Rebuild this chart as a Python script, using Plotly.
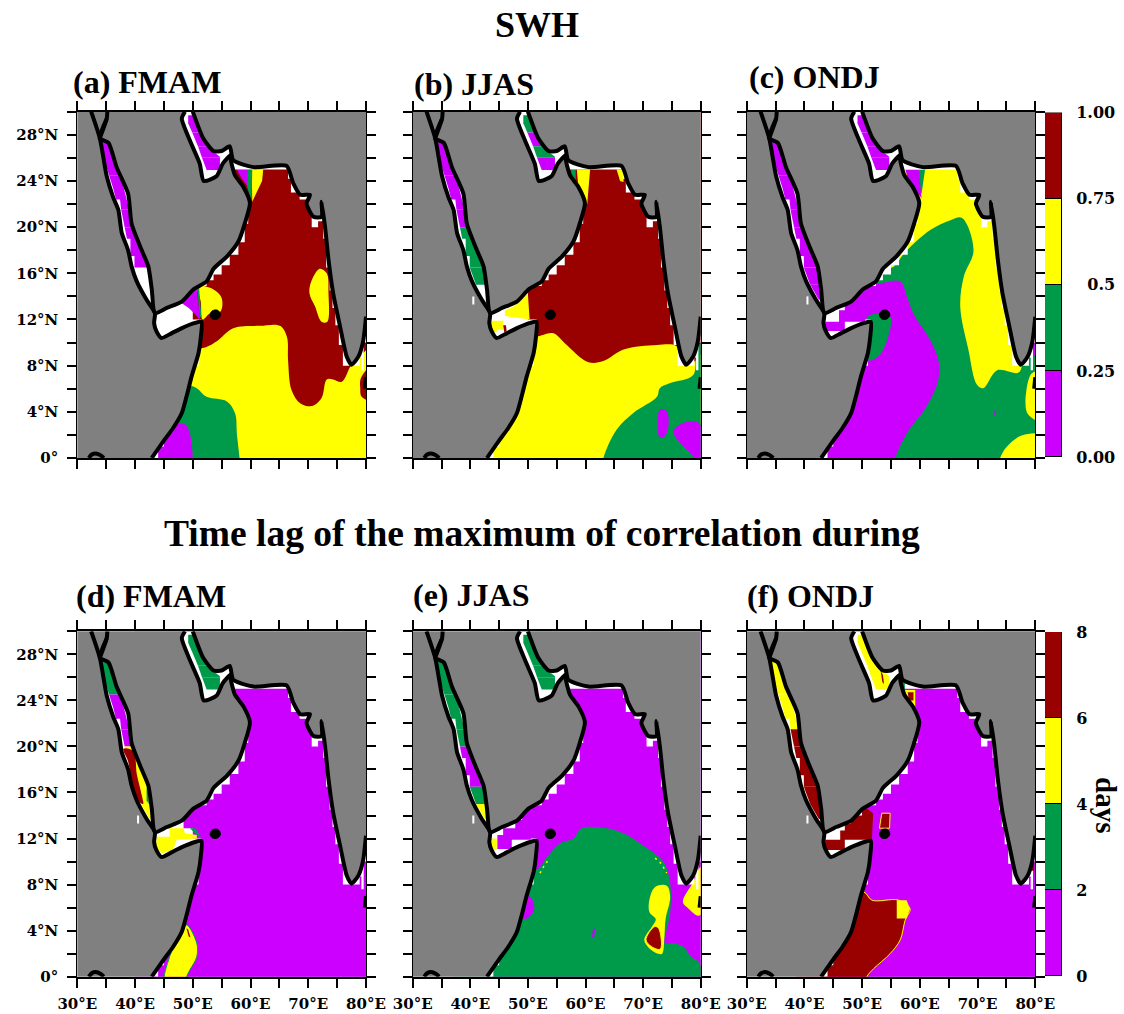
import plotly.graph_objects as go

W, H = 1124, 1014
MAROON, YELLOW, GREEN, PURPLE, GRAY = "#990000", "#FFFF00", "#009A4B", "#CC00FF", "#808080"

# ---------- tick labels ----------
LON_TICKS = [30, 35, 40, 45, 50, 55, 60, 65, 70, 75, 80]
LON_LABELS = ["30°E", "", "40°E", "", "50°E", "", "60°E", "", "70°E", "", "80°E"]
LAT_TICKS = [0, 2, 4, 6, 8, 10, 12, 14, 16, 18, 20, 22, 24, 26, 28, 30]
LAT_LABELS = ["0°", "", "4°N", "", "8°N", "", "12°N", "", "16°N", "", "20°N", "", "24°N", "", "28°N", ""]
BAR_TOP_TICKS = [0, 0.25, 0.5, 0.75, 1.0]
BAR_TOP_LABELS = ["0.00", "0.25", "\u00a0\u00a00.5", "0.75", "1.00"]
BAR_BOTTOM_TICKS = [0, 2, 4, 6, 8]
BAR_BOTTOM_LABELS = ["0", "2", "4", "6", "8"]
BAR_TOP_STEPS = [0.25, 0.25, 0.25, 0.25]
BAR_BOTTOM_STEPS = [2, 2, 2, 2]
BAR_COLORS = [PURPLE, GREEN, YELLOW, MAROON]

# ---------- coastlines (lon, lat) ----------
AFRICA_COAST = [(42.9,0),(44.9,1.44),(46.6,2.6),(48.1,3.9),(48.9,5.3),(49.8,7.07),(51.0,9.1),(51.4,10.5),(51.5,11.8),
    (50.4,11.7),(48.1,11.25),(46.3,10.8),(44.6,10.4),(43.7,11.0),(43.3,11.7),(43.45,12.55),
    (42.0,13.7),(40.3,15.3),(39.4,16.6),(38.8,18.0),(37.7,19.5),(37.1,21.5),(36.2,22.6),(35.1,24.4),(33.9,27.7),(32.4,30)]
SINAI_COAST = [(33.9,27.7),(35.1,29.4),(35.2,30)]
ARABIA_COAST = [(35.1,29.4),(33.9,27.7),(35.4,27.3),(36.8,25.2),(38.8,22.9),(39.4,20.3),(40.9,18.3),(42.3,16.6),(42.9,14.6),(43.45,12.55),
    (45.5,13.0),(48.1,13.55),(50.1,14.6),(52.4,15.3),(53.6,16.4),(55.9,17.45),(57.9,18.75),(59.0,20.3),(59.9,22.1),
    (58.75,23.5),(57.3,24.5),(56.6,25.8),(56.6,26.25),(55.2,25.5),(54.1,24.4),(51.9,24.0),(51.2,25.5),(49.5,27.5),(48.1,29.4),(48.65,30)]
ASIA_COAST = [(50.0,30),(51.8,27.7),(53.6,26.6),(55,26.6),(56.4,27.0),(57.0,25.8),(60.5,25.2),(66.25,25.3),(67.4,23.8),(68.6,22.8),
    (70.3,22.8),(69.7,22.05),(70.9,20.9),(72.3,20.9),(72.3,22.2),(72.9,20.05),(73.5,17.2),(74.3,14.3),(75.5,11.4),(76.65,8.8),
    (77.5,8.08),(78.7,8.8),(79.5,10.1),(80,12.25)]
LANKA_COAST = [(80,7),(79.8,6)]
VICTORIA_ARC = [(32,0),(32.5,0.3),(33.2,0.4),(34,0.25),(34.6,0)]
SOCOTRA = [(53.0,12.4),(53.4,12.75),(54.3,12.8),(54.8,12.4),(54.3,12.05),(53.4,12.05)]
LAND_SPECK = [(40.35,13.3),(40.7,13.3),(40.7,14.0),(40.35,14.0)]

# grid-cell edge of the open-sea data, everything outside it stays white
SEA_MASK = [(44,0),(44,1),(45,1),(45,2),(46,2),(46,3),(47,3),(47,4),(48,4),(48,5),(49,5),(49,6),(49.5,6),(49.5,7),(50,7),(50,8),(51,8),(51,10),(51.5,10),(51.5,12),
    (50,12),(50,14.9),(52.4,14.9),(52.4,15.4),(53.6,15.4),(53.6,15.9),(55,15.9),(55,16.7),(56.4,16.7),(56.4,17.6),(57.9,17.6),(57.9,18.7),(59,18.7),(59,20.3),(59.6,20.3),
    (59.6,22),(59,22),(59,23),(58,23),(58,24),(57,24),(57,25),(66.5,25),(66.5,24.2),(67,24.2),(67,23),(68.5,23),(68.5,22.4),(70,22.4),(70,21.5),(70.6,21.5),(70.6,20),
    (71.7,20),(71.7,20.5),(72.6,20.5),(72.6,19),(73.1,19),(73.1,16.5),(73.7,16.5),(73.7,14.5),(74.2,14.5),(74.2,13),(74.7,13),(74.7,11.5),(75.3,11.5),(75.3,9.8),(76,9.8),(76,8),
    (78.9,8),(78.9,8.7),(79.2,8.7),(79.2,7.6),(79.6,7.6),(79.6,10),(80,10),(80,30),(30,30),(30,0)]

# ---------- narrow-basin sections ----------
RS_A = [(34.2,27.4),(35.5,27.4),(37.5,24.5),(35.5,24.5),(34.9,25.5)]
RS_B = [(35.5,24.5),(37.5,24.5),(39,21.5),(37.6,21.5),(37.4,22.4),(36.7,22.4),(36.2,23.4)]
RS_C = [(37.6,21.5),(39,21.5),(39.8,20),(38.2,20)]
RS_D = [(38.2,20),(39.8,20),(42.4,16.5),(39.9,16.5),(39.9,17.5),(39.2,17.5),(39.2,19),(38.6,19)]
RS_E = [(39.9,16.5),(42.4,16.5),(43,15),(41,15)]
RS_F = [(41,15),(43,15),(43.4,13.7),(42.5,13.7)]
PG_N = [(49.2,29.7),(50.1,29.7),(51.2,28.2),(49.9,28.2),(49.2,29)]
PG_M = [(49.9,28.2),(51.2,28.2),(52.4,27),(50.9,27)]
PG_S1 = [(50.9,27),(52.4,27),(54.7,26.1),(54.7,26),(51.6,26)]
PG_S2 = [(51.6,26),(54.7,26),(54.7,24.95),(52.4,24.95)]

# ---------- panel (a) ----------
A_YELLOW = [(40,9.5),(51.5,9.5),(54.1,10.1),(57,11.25),(61.6,11.45),(65.1,11.45),(66.3,10.5),(66.5,8.5),(67.1,5.9),(68.6,4.75),(70.6,4.5),(72.3,5.2),(73.2,6.8),(74.3,6.8),(75.8,6.6),(77.5,8.1),(79.5,9.1),(82,10),(84,-4),(40,-4)]
A_RED_EAST = [(81,8),(79.1,6.9),(79,6.05),(79.25,5.3),(81,5)]
A_YELLOW_BLOB = [(72,16.4),(70.6,15.4),(70.2,14.3),(71.2,13.1),(72.3,11.8),(73.3,11.8),(73.5,14.3),(73.2,16)]
A_YELLOW_ADEN = [(50.9,14.85),(53.6,14.6),(55,13.85),(54.8,12.7),(53,12.55),(51.7,12.0),(51.4,13.5)]
A_GREEN_ADEN = [(50.8,14.7),(51.1,14.7),(51.5,12.2),(51.2,12.2)]
A_PURPLE_ADEN = [(48.1,13.4),(50.1,14.6),(50.7,14.7),(51.3,11.9),(50.5,12.4),(49.3,13)]
A_YELLOW_OMAN = [(60.2,25),(62.2,25),(62,24),(60.3,22.2)]
A_GREEN_OMAN = [(59.4,25),(60.3,25),(60.2,22.2),(59.4,23.5)]
A_PURPLE_OMAN = [(57.6,25),(59.4,25),(59.4,23.6),(58.5,24.2)]
A_GREEN = [(40,6.2),(50.1,6.2),(52.4,5.3),(55.9,4.9),(57.3,3.9),(57.6,2.45),(57,-4),(40,-4)]
A_PURPLE = [(43,0),(47.2,2.9),(48.65,2.9),(49.6,1.9),(49.2,-2),(43,-2)]

# ---------- panel (b) ----------
B_YELLOW = [(40,10.5),(51.2,10.5),(54.4,10.8),(56.4,9.95),(60.5,8.3),(63.1,8.4),(66.6,9.4),(72.4,9.8),(75.8,9.7),(77,8.5),(78.7,8.3),(82,10),(84,-4),(40,-4)]
B_GREEN = [(62,-3),(63.1,0),(65.4,2.45),(68.3,3.9),(72.4,5.3),(72.9,6.05),(74.7,6.5),(78.7,7.2),(79.3,9.5),(81,10.2),(84,-3)]
B_PURPLE_1 = [(72.9,4.2),(74.1,4.05),(74.4,2.75),(73.8,1.9),(72.9,1.75)]
B_PURPLE_2 = [(75.25,2.3),(77,3.05),(79.6,3.05),(81,1),(80,-0.5),(78.4,0.3)]
B_YELLOW_OMAN = [(58.5,25),(60.8,25),(60.3,22),(59,22)]
B_GREEN_OMAN = [(57.5,25),(58.3,25),(58.3,24),(57.5,24)]
B_YELLOW_EAST = [(65.4,25),(66.6,25),(66.6,23.9),(66,24)]
B_YELLOW_ADEN_R = [(46,12.8),(47,13),(48,13.3),(48.8,13.9),(50,14.2),(50.3,12.0),(46,12.3)]
B_YELLOW_ADEN_L = [(43.4,11.9),(45.7,11.9),(45.7,11.1),(44.6,11.1),(44.6,10.9),(43.6,10.9)]
B_RED_DOT = [(45.7,11.5),(46.2,11.5),(46.3,11),(45.9,10.9)]

# ---------- panel (c) ----------
C_YELLOW = [(55,16.5),(57.75,18.0),(61.8,19.75),(65.3,20.6),(67.3,20.8),(69.3,18),(67.6,15.7),(67,13.1),(68.4,9.4),(69.9,6.35),(71,6.05),(73.4,7.6),(77.1,7.4),(78,8.5),(82,12),(82,28),(55,28)]
C_GREEN_OMAN = [(59.8,25),(60.9,25),(60.3,22.9),(59.6,23.5)]
C_PURPLE_OMAN = [(57.5,25),(59.8,25),(60.3,22.5),(58,24)]
C_YELLOW_EAST = [(79.4,7.35),(78.3,4.75),(78.8,3.75),(81,3.2),(81,7.4)]
C_PURPLE_TIP = [(79.5,10),(80,10),(80,8.9),(79.6,8.9)]
C_YELLOW_SOUTH = [(73,-2),(73.9,0),(75.1,1),(77.4,1.9),(80,2.15),(83,2),(83,-2)]
C_PURPLE = [(40,15.1),(52.5,15.1),(56.6,15.3),(57.75,14),(58.9,12.5),(61.8,10.2),(63.2,8.5),(63.2,6.8),(61.2,4.5),(57.75,2.15),(55.7,0),(54,-3),(40,-3)]
C_GREEN_INNER = [(51,12.25),(54.85,12.25),(54.5,10.5),(53.1,8.95),(51.7,8.5),(51,8.5)]
C_PURPLE_ADEN = [(43.6,11.8),(46,11.8),(46,12.8),(47,12.8),(47,13.4),(48.2,13.4),(48.2,14),(49.2,14),(49.2,14.6),(50.5,14.6),(50.5,11.8),(47,11.8),(47,11),(43.6,11)]
C_DOT = [(72.9,3.7),(73.2,3.7),(73.2,4.1),(72.9,4.1)]

# ---------- panel (d) ----------
D_YELLOW_SOUTH = [(48.9,4.5),(50.7,2.9),(50.7,1.75),(49.5,0.6),(48.1,-0.5),(45.2,-0.5),(46,1.75),(47.8,3.75)]
D_RED_DASH = [(48.9,4.2),(49.3,3.5),(49.6,3.4),(49.2,4.1)]
D_RED_RS = [(38,19.8),(39.7,19.6),(40.3,17.6),(41.1,15.9),(41.4,15),(40.5,15.3),(39.4,17),(38.8,18.7)]
D_GREEN_RS = [(42,16.4),(42.3,16),(42.4,15),(42,15.3)]
D_YELLOW_ADEN = [(43.75,12.15),(46,12.15),(46,12.9),(48.4,12.9),(48.65,12.45),(50.7,12.3),(50.7,12),(47.2,11.9),(46.6,11),(44.6,10.7),(43.6,11.3)]
D_GREEN_ADEN = [(49.5,12.9),(50.5,12.9),(51.5,12),(50.7,12.3)]
D_PURPLE_ADEN = [(48.4,14),(50.5,14.5),(50.5,12.9),(48.4,12.9)]

# ---------- panel (e) ----------
E_GREEN = [(40,9.3),(51.5,9.3),(53.3,10.4),(55.6,11.6),(57.9,12),(59.3,12.9),(63.7,12.9),(66.6,12.45),(70,11.4),(73.5,10),(74.7,8.1),(74.7,5.5),(73.8,2.9),(75.25,2.9),(77,2.6),(78.4,1.7),(79.6,1.3),(81,-1),(82,-4),(40,-4)]
E_PURPLE_WEST = [(50.4,6.95),(51.1,5.9),(50.1,5.15),(48.75,5.07),(48,6.9)]
E_PURPLE_DOT = [(61.1,3.4),(61.3,4.1),(61.7,4.2),(61.5,3.4)]
E_YELLOW = [(72.1,7.8),(74.1,7.9),(74.7,6.95),(73.9,5),(73.7,3.5),(73.3,2),(72.6,2),(71,2.5),(70.2,3.2),(71.6,4.4),(72.2,5),(71.1,5.6),(71.1,6.7)]
E_RED = [(72,4.35),(72.7,4.2),(73,2.4),(71.5,2.6),(70.5,3.2)]
E_YELLOW_EAST = [(76.9,6.5),(78.7,8.2),(80,9.5),(81,9),(81,6),(79.6,5.3),(77.9,5.9)]
E_PURPLE_ADEN = [(44.7,12.3),(45.7,12.3),(45.7,12.9),(47.8,12.9),(47.8,13.6),(49,13.6),(49,14.5),(50.5,14.8),(50.5,11.9),(47.2,11.9),(47.2,11.1),(44.7,11.1)]
E_YELLOW_ADEN = [(43.4,12),(44.6,12),(44.6,11),(43.5,11)]
E_DASH_WEST = [(52.1,9),(52.9,9.7),(53.8,10.3)]
E_DASH_EAST = [(72.1,10.3),(73.2,9.8),(74.1,9)]

# ---------- panel (f) ----------
F_RED = [(40,7.4),(50.2,7.4),(51.7,6.65),(56.3,6.65),(58.3,5.9),(57.45,4.9),(56.6,3.2),(54.85,2),(52,0.7),(50.8,0),(49,-2),(40,-2)]
F_YELLOW_BLOCK = [(56,6.65),(57.7,6.65),(58.3,5.9),(57.7,5.05),(56,5.05)]
F_RED_SOCOTRA = [(53.4,14.2),(54.85,14.2),(54.75,12.9),(53,12.9)]
F_YELLOW_OMAN = [(57.4,24.9),(59.2,24.9),(59.2,23.4),(58.3,23.5)]
F_RED_OMAN = [(57.9,24.7),(58.9,24.7),(58.9,24),(58.1,24)]
F_GREEN_OMAN = [(56.9,25.6),(57.4,25.6),(57.4,24.7),(56.9,24.7)]
F_RED_TIP = [(79.3,10),(79.8,10),(79.8,9.2),(79.3,9.2)]
F_RED_ADEN = [(43.6,11.9),(46.2,11.9),(46.2,12.7),(47,12.7),(47,13.3),(48,13.3),(48,14),(50,14),(50,14.9),(51.9,14.2),(51.7,11.9),(47,11.9),(47,11),(43.6,11)]
F_RED_RS_DASH = [(53.2,26.6),(53.6,26.2),(53.8,25.4),(53.5,25.6)]

WHOLE_SEA = [(40,-1),(81,-1),(81,31),(40,31)]

# polygons whose edges are smooth contours (the rest are grid-cell blocks)
SMOOTH = [A_YELLOW, A_YELLOW_BLOB, A_GREEN, A_RED_EAST, A_YELLOW_ADEN, A_PURPLE, B_YELLOW, B_GREEN, B_PURPLE_1, B_PURPLE_2,
          C_YELLOW, C_YELLOW_EAST, C_YELLOW_SOUTH, C_PURPLE, C_GREEN_INNER, D_YELLOW_SOUTH, D_RED_RS,
          E_GREEN, E_PURPLE_WEST, E_YELLOW, E_RED, E_YELLOW_EAST, F_RED]
OUTLINED = [D_YELLOW_SOUTH, F_RED, F_RED_SOCOTRA, E_RED]

MAIN = {
 1: [(MAROON,WHOLE_SEA),(YELLOW,A_YELLOW),(MAROON,A_RED_EAST),(YELLOW,A_YELLOW_BLOB),(GREEN,A_GREEN),(PURPLE,A_PURPLE),
     (YELLOW,A_YELLOW_OMAN),(GREEN,A_GREEN_OMAN),(PURPLE,A_PURPLE_OMAN)],
 2: [(MAROON,WHOLE_SEA),(YELLOW,B_YELLOW),(GREEN,B_GREEN),(PURPLE,B_PURPLE_1),(PURPLE,B_PURPLE_2),(YELLOW,B_YELLOW_OMAN),(GREEN,B_GREEN_OMAN),(YELLOW,B_YELLOW_EAST)],
 3: [(GREEN,WHOLE_SEA),(YELLOW,C_YELLOW),(GREEN,C_GREEN_OMAN),(PURPLE,C_PURPLE_OMAN),(YELLOW,C_YELLOW_EAST),(PURPLE,C_PURPLE_TIP),(YELLOW,C_YELLOW_SOUTH),(PURPLE,C_PURPLE),(GREEN,C_GREEN_INNER),(PURPLE,C_DOT)],
 4: [(PURPLE,WHOLE_SEA),(YELLOW,D_YELLOW_SOUTH),(MAROON,D_RED_DASH)],
 5: [(PURPLE,WHOLE_SEA),(GREEN,E_GREEN),(PURPLE,E_PURPLE_WEST),(PURPLE,E_PURPLE_DOT),(YELLOW,E_YELLOW),(MAROON,E_RED),(YELLOW,E_YELLOW_EAST)],
 6: [(PURPLE,WHOLE_SEA),(MAROON,F_RED),(YELLOW,F_YELLOW_BLOCK),(MAROON,F_RED_SOCOTRA)],
}
BASIN = {
 1: [(PURPLE,RS_A),(PURPLE,RS_B),(PURPLE,RS_C),(PURPLE,RS_D),(PURPLE,PG_N),(PURPLE,PG_M),(PURPLE,PG_S1),(PURPLE,PG_S2),(YELLOW,A_YELLOW_ADEN),(PURPLE,A_PURPLE_ADEN),(GREEN,A_GREEN_ADEN)],
 2: [(PURPLE,RS_A),(PURPLE,RS_B),(PURPLE,RS_C),(GREEN,RS_D),(GREEN,RS_E),(GREEN,PG_N),(PURPLE,PG_M),(GREEN,PG_S1),(PURPLE,PG_S2),(YELLOW,B_YELLOW_ADEN_R),(YELLOW,B_YELLOW_ADEN_L),(MAROON,B_RED_DOT)],
 3: [(PURPLE,RS_A),(PURPLE,RS_B),(PURPLE,RS_C),(PURPLE,RS_D),(PURPLE,RS_E),(PURPLE,RS_F),(PURPLE,PG_N),(PURPLE,PG_M),(PURPLE,PG_S1),(PURPLE,PG_S2),(PURPLE,C_PURPLE_ADEN)],
 4: [(GREEN,RS_A),(PURPLE,RS_B),(PURPLE,RS_C),(YELLOW,RS_D),(YELLOW,RS_E),(YELLOW,RS_F),(MAROON,D_RED_RS),(GREEN,D_GREEN_RS),(GREEN,PG_N),(GREEN,PG_M),(GREEN,PG_S1),(GREEN,PG_S2),(PURPLE,D_PURPLE_ADEN),(YELLOW,D_YELLOW_ADEN),(GREEN,D_GREEN_ADEN)],
 5: [(GREEN,RS_A),(GREEN,RS_B),(GREEN,RS_C),(PURPLE,RS_D),(GREEN,RS_E),(YELLOW,RS_F),(GREEN,PG_N),(GREEN,PG_M),(GREEN,PG_S1),(GREEN,PG_S2),(PURPLE,E_PURPLE_ADEN),(YELLOW,E_YELLOW_ADEN)],
 6: [(YELLOW,RS_A),(YELLOW,RS_B),(MAROON,RS_C),(MAROON,RS_D),(MAROON,RS_E),(MAROON,RS_F),(YELLOW,PG_N),(YELLOW,PG_M),(YELLOW,PG_S1),(YELLOW,PG_S2),(MAROON,F_RED_RS_DASH),(MAROON,F_RED_ADEN),(MAROON,F_RED_TIP),(YELLOW,F_YELLOW_OMAN),(MAROON,F_RED_OMAN),(GREEN,F_GREEN_OMAN)],
}
DASHES = {5: [E_DASH_WEST, E_DASH_EAST]}

# panel boxes, in page pixels: left, right, top, bottom
BOXES = {1:(77.3,366,111.7,458),2:(412.7,700.7,111.7,458),3:(746.7,1035.3,111.7,458),
         4:(77.3,366,631.3,976.7),5:(412.7,700.7,631.3,976.7),6:(746.7,1035.3,631.3,976.7)}
BAR_BOXES = {7:(1045,1062,112.7,457),8:(1045,1062,632,976)}

TICK_FONT = dict(family="DejaVu Serif", size=15, color="black", weight="bold")
BAR_FONT = dict(family="DejaVu Serif", size=16, color="black", weight="bold")
TITLE = "Liberation Serif"

fig = go.Figure()

def poly(i, pts, color, fill=True, width=0, line_color=None, smooth=0, dash=None):
    fig.add_trace(go.Scatter(
        x=[p[0] for p in pts] + ([pts[0][0]] if fill else []),
        y=[p[1] for p in pts] + ([pts[0][1]] if fill else []),
        xaxis=f"x{i}", yaxis=f"y{i}", mode="lines", showlegend=False, hoverinfo="skip",
        fill="toself" if fill else "none", fillcolor=color if fill else None,
        line=dict(color=line_color or color, width=width, shape="spline" if smooth else "linear", smoothing=smooth or None, dash=dash)))

def region(i, c, p):
    smooth = 1.0 if any(p is s for s in SMOOTH) else 0
    outlined = any(p is s for s in OUTLINED)
    poly(i, p, c, smooth=smooth, width=1 if outlined else 0, line_color=(GREEN if i == 4 else YELLOW) if outlined else None)

for i in range(1, 7):
    for c, p in MAIN[i]:
        region(i, c, p)
    for p in DASHES.get(i, []):
        poly(i, p, YELLOW, fill=False, width=1.5, dash="2px,4px")
    poly(i, SEA_MASK, "white")
    for c, p in BASIN[i]:
        region(i, c, p)
    poly(i, AFRICA_COAST + [(30, 30), (30, 0)], GRAY)
    poly(i, ARABIA_COAST + [(35.2, 30)], GRAY)
    poly(i, SINAI_COAST + [(32.4, 30), (33.9, 27.7)], GRAY)
    poly(i, ASIA_COAST + [(80, 30)], GRAY)
    if i != 1:
        poly(i, LAND_SPECK, "white")
    for coast in (AFRICA_COAST, ARABIA_COAST, SINAI_COAST, ASIA_COAST, LANKA_COAST, VICTORIA_ARC):
        poly(i, coast, "black", fill=False, width=4, smooth=0.6)
    poly(i, SOCOTRA, "black", smooth=1.0, width=1, line_color="black")

    l, r, t, b = BOXES[i]
    fig.layout[f"xaxis{i}"] = dict(domain=[l / W, r / W], anchor=f"y{i}", range=[30, 80], tickmode="array",
        tickvals=LON_TICKS, ticktext=LON_LABELS, ticks="outside", ticklen=9, tickwidth=2, tickcolor="black",
        showline=True, linecolor="black", linewidth=2, mirror="ticks", showgrid=False, zeroline=False, automargin=False,
        showticklabels=i > 3, tickfont=TICK_FONT, tickangle=0, ticklabelstandoff=3)
    fig.layout[f"yaxis{i}"] = dict(domain=[1 - b / H, 1 - t / H], anchor=f"x{i}", range=[0, 30], tickmode="array",
        tickvals=LAT_TICKS, ticktext=LAT_LABELS, ticks="outside", ticklen=9, tickwidth=2, tickcolor="black",
        showline=True, linecolor="black", linewidth=1, mirror="ticks", showgrid=False, zeroline=False, automargin=False,
        showticklabels=i in (1, 4), tickfont=TICK_FONT, ticklabelstandoff=6)

for i, steps, tv, tt in ((7, BAR_TOP_STEPS, BAR_TOP_TICKS, BAR_TOP_LABELS), (8, BAR_BOTTOM_STEPS, BAR_BOTTOM_TICKS, BAR_BOTTOM_LABELS)):
    for s, c in zip(steps, BAR_COLORS):
        fig.add_trace(go.Bar(x=[0], y=[s], xaxis=f"x{i}", yaxis=f"y{i}", marker=dict(color=c, line=dict(color="black", width=1)),
                             showlegend=False, hoverinfo="skip"))
    l, r, t, b = BAR_BOXES[i]
    fig.layout[f"xaxis{i}"] = dict(domain=[l / W, r / W], anchor=f"y{i}", range=[-0.5, 0.5], visible=False, automargin=False)
    fig.layout[f"yaxis{i}"] = dict(domain=[1 - b / H, 1 - t / H], anchor=f"x{i}", range=[0, sum(steps)], side="right", tickmode="array",
        tickvals=tv, ticktext=tt, ticks="outside", ticklen=10, tickcolor="rgba(0,0,0,0)", showgrid=False, zeroline=False,
        showline=False, tickfont=BAR_FONT, automargin=False)

def label(text, x, y, size, anchor="left", angle=0):
    fig.add_annotation(text=f"<b>{text}</b>", xref="paper", yref="paper", x=x / W, y=1 - y / H, showarrow=False,
                       xanchor=anchor, yanchor="middle", textangle=angle,
                       font=dict(family=TITLE, size=size, color="black"))

label("SWH", 537, 25, 36, "center")
label("Time lag of the maximum of correlation during", 542, 533, 37.5, "center")
label("(a) FMAM", 71, 82, 32)
label("(b) JJAS", 412, 84, 32)
label("(c) ONDJ", 747, 77, 32)
label("(d) FMAM", 74, 596, 32)
label("(e) JJAS", 411, 595, 32)
label("(f) ONDJ", 745, 596, 32)
label("days", 1106, 805, 29, "center", 90)

fig.update_layout(width=W, height=H, margin=dict(l=0, r=0, t=0, b=0, pad=0, autoexpand=False), paper_bgcolor="white", plot_bgcolor=GRAY,
                  barmode="stack", bargap=0, showlegend=False)
fig.write_html("out.html", post_script="document.body.style.margin='0';", config={"displayModeBar": False})
